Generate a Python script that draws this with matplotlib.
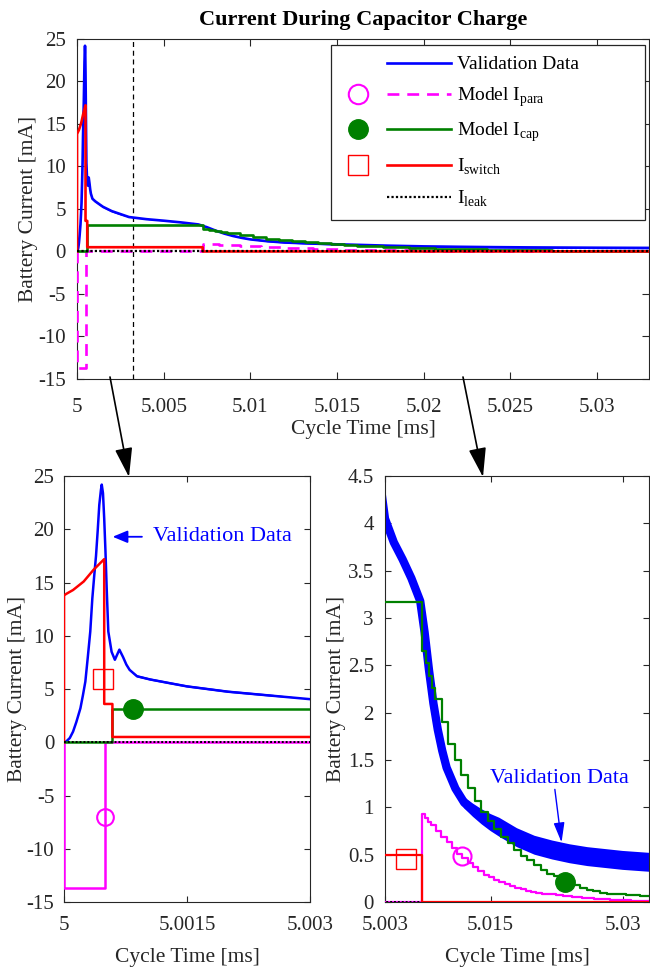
import numpy as np
import matplotlib
matplotlib.use('Agg')
import matplotlib.pyplot as plt
from matplotlib.lines import Line2D
from matplotlib.patches import FancyArrowPatch
from matplotlib.legend_handler import HandlerBase

plt.rcParams['font.family'] = 'Liberation Serif'
plt.rcParams['mathtext.fontset'] = 'custom'
plt.rcParams['mathtext.rm'] = 'Liberation Serif'
plt.rcParams['axes.unicode_minus'] = False
plt.rcParams['xtick.direction'] = 'in'
plt.rcParams['ytick.direction'] = 'in'
plt.rcParams['xtick.top'] = True
plt.rcParams['ytick.right'] = True
plt.rcParams['axes.edgecolor'] = '#262626'
plt.rcParams['axes.linewidth'] = 0.8
plt.rcParams['xtick.color'] = '#262626'
plt.rcParams['ytick.color'] = '#262626'
plt.rcParams['text.color'] = '#262626'
plt.rcParams['axes.labelcolor'] = '#262626'

blue, magenta, green, red = '#0000ff', '#ff00ff', '#008000', '#ff0000'


#> Data (cycle time in ms, current in mA)
valTime = [5.0, 5.00003, 5.00007, 5.00011, 5.00015, 5.0002, 5.00023, 5.00026, 5.00029, 5.00032,
           5.000345, 5.00037, 5.00039, 5.00041, 5.00043, 5.00045, 5.00046, 5.000475, 5.00049, 5.000505,
           5.00052, 5.00054, 5.00058, 5.00062, 5.000675, 5.00072, 5.00076, 5.0008, 5.00089, 5.00105,
           5.00129, 5.0015, 5.002, 5.0025, 5.003, 5.004, 5.005, 5.006, 5.007, 5.0075,
           5.008, 5.0085, 5.009, 5.0095, 5.01, 5.011, 5.012, 5.013, 5.014, 5.015,
           5.016, 5.018, 5.02, 5.022, 5.024, 5.026, 5.028, 5.03, 5.033]
valCurrent = [0.0, 0.1, 0.4, 1.0, 1.9, 3.2, 4.4, 5.7, 8.0, 10.4,
              13.5, 15.8, 17.5, 19.8, 22.3, 23.7, 24.2, 23.4, 21.0, 18.0,
              14.5, 10.4, 8.5, 7.75, 8.7, 8.0, 7.3, 6.8, 6.2, 5.9,
              5.55, 5.25, 4.75, 4.4, 4.05, 3.8, 3.62, 3.42, 3.18, 2.85,
              2.45, 2.1, 1.82, 1.6, 1.42, 1.2, 1.05, 0.97, 0.9, 0.84,
              0.79, 0.68, 0.6, 0.55, 0.51, 0.48, 0.46, 0.44, 0.42]
# half-width of the measurement noise band
valSpread = [0, 0, 0, 0, 0, 0, 0, 0, 0, 0,
             0, 0, 0, 0, 0, 0, 0, 0, 0, 0,
             0, 0, 0.05, 0.05, 0.05, 0.05, 0.05, 0.05, 0.1, 0.1,
             0.1, 0.1, 0.1, 0.1, 0.03, 0.03, 0.03, 0.03, 0.03, 0.03,
             0.03, 0.03, 0.03, 0.03, 0.03, 0.06, 0.06, 0.07, 0.08, 0.09,
             0.1, 0.1, 0.1, 0.1, 0.1, 0.1, 0.1, 0.1, 0.1]

paraTime = [5.0, 5.0, 5.0005, 5.00725, 5.0076, 5.0079, 5.0082, 5.0088, 5.0094, 5.01,
            5.0106, 5.0112, 5.0118, 5.0124, 5.013, 5.0136, 5.0142, 5.0148, 5.0154, 5.016,
            5.0166, 5.0172, 5.0178, 5.0184, 5.019, 5.0196, 5.0202, 5.0208, 5.0216, 5.0224,
            5.0232, 5.0242, 5.0254, 5.0268, 5.0286, 5.031, 5.033]
paraCurrent = [0.0, -13.7, 0.0, 0.93, 0.89, 0.85, 0.81, 0.75, 0.69, 0.63,
               0.57, 0.51, 0.46, 0.41, 0.37, 0.33, 0.29, 0.26, 0.23, 0.21,
               0.19, 0.17, 0.15, 0.135, 0.12, 0.11, 0.1, 0.09, 0.08, 0.07,
               0.06, 0.05, 0.04, 0.03, 0.02, 0.015, 0.01]

capTime = [5.0, 5.00059, 5.00725, 5.00763, 5.00798, 5.00833, 5.00868, 5.00943, 5.01018, 5.01093,
           5.01168, 5.01243, 5.01318, 5.01393, 5.01468, 5.01543, 5.01618, 5.01693, 5.01768, 5.01843,
           5.01918, 5.01993, 5.02068, 5.02143, 5.02218, 5.02293, 5.02368, 5.02443, 5.02518, 5.02593,
           5.02668, 5.02743, 5.02818, 5.02893, 5.02968, 5.03043, 5.03118, 5.03193, 5.033]
capCurrent = [0.0, 3.17, 2.65, 2.52, 2.39, 2.26, 2.14, 1.9, 1.67, 1.5,
              1.34, 1.2, 1.07, 0.95, 0.86, 0.77, 0.69, 0.62, 0.55, 0.49,
              0.44, 0.39, 0.34, 0.3, 0.27, 0.24, 0.21, 0.18, 0.15, 0.13,
              0.115, 0.1, 0.09, 0.085, 0.08, 0.075, 0.07, 0.065, 0.06]

switchTime = [5.0, 5.0, 5.00003, 5.00011, 5.00024, 5.00036, 5.00049, 5.00049, 5.00059, 5.00059,
              5.00725, 5.00725, 5.033]
switchCurrent = [0.0, 13.8, 13.95, 14.3, 15.1, 16.2, 17.2, 3.6, 3.6, 0.5,
                 0.5, 0.0, 0.0]

leakTime = [5.0, 5.033]
leakCurrent = [0.0, 0.0]

# marker positions in the two zoomed views: (time, current)
paraMarks = [(5.0005, -7.0), (5.0118, 0.49)]
capMarks = [(5.00084, 3.17), (5.0235, 0.21)]
switchMarks = [(5.00048, 5.97), (5.00533, 0.45)]
zoomEdge = 5.00325

valLow = np.array(valCurrent) - np.array(valSpread)
valHigh = np.array(valCurrent) + np.array(valSpread)


class MarkerThenLine(HandlerBase):
    # legend entry: optional marker on the left, line sample on the right
    def create_artists(self, legend, orig_handle, xdescent, ydescent, width, height, fontsize, trans):
        markerHandle, lineHandle = orig_handle
        yMid = height / 2 - ydescent
        artists = []
        if markerHandle is not None:
            m = Line2D([0.147 * width - xdescent], [yMid])
            m.update_from(markerHandle)
            m.set_linestyle('none')
            artists.append(m)
        ln = Line2D([0.42 * width - xdescent, width - xdescent], [yMid, yMid])
        ln.update_from(lineHandle)
        ln.set_marker('None')
        artists.append(ln)
        for a in artists:
            a.set_transform(trans)
        return artists


fig = plt.figure(figsize=(6.5, 9.69), dpi=100)

#> Top: full charge
axTop = fig.add_axes([0.1185, 0.6089, 0.88, 0.3509])
axTop.fill_between(valTime, valLow, valHigh, color=blue, lw=0, zorder=2)
blueLine, = axTop.plot(valTime, valCurrent, color=blue, lw=1.9, zorder=2)
paraLine, = axTop.plot(paraTime, paraCurrent, color=magenta, lw=1.9, drawstyle='steps-post',
                       dashes=(4.5, 3), zorder=3)
capLine, = axTop.plot(capTime, capCurrent, color=green, lw=1.9, drawstyle='steps-post', zorder=4)
switchLine, = axTop.plot(switchTime, switchCurrent, color=red, lw=1.9, zorder=5)
leakLine, = axTop.plot(leakTime, leakCurrent, color='black', lw=1.6, linestyle=(0, (1, 1)), zorder=6)
axTop.axvline(zoomEdge, color='black', lw=0.9, dashes=(4, 3), zorder=1)

axTop.set_xlim(5.0, 5.033)
axTop.set_ylim(-15, 25)
axTop.set_xticks([5.0, 5.005, 5.01, 5.015, 5.02, 5.025, 5.03],
                 ['5', '5.005', '5.01', '5.015', '5.02', '5.025', '5.03'])
axTop.set_yticks(np.arange(-15, 26, 5))
axTop.tick_params(labelsize=15, length=5, width=0.8)
axTop.tick_params(axis='x', pad=13.5)
axTop.tick_params(axis='y', pad=8)
axTop.set_xlabel('Cycle Time [ms]', fontsize=15.5, labelpad=2)
axTop.set_ylabel('Battery Current [mA]', fontsize=15.5, labelpad=0)
axTop.set_title('Current During Capacitor Charge', fontsize=16, fontweight='bold', color='black', pad=10)

paraMark = Line2D([], [], marker='o', markersize=14, mfc='none', mec=magenta, mew=1.5)
capMark = Line2D([], [], marker='o', markersize=14, mfc=green, mec=green)
switchMark = Line2D([], [], marker='s', markersize=14, mfc='none', mec=red, mew=1.0)
leg = axTop.legend([(None, blueLine), (paraMark, paraLine), (capMark, capLine), (switchMark, switchLine), (None, leakLine)],
                   ['Validation Data', 'Model I$_{\\rm para}$', 'Model I$_{\\rm cap}$', 'I$_{\\rm switch}$', 'I$_{\\rm leak}$'],
                   handler_map={tuple: MarkerThenLine()}, loc='upper left', mode='expand',
                   bbox_to_anchor=(0.444, 0.0, 0.549, 0.982), fontsize=14,
                   fancybox=False, framealpha=1, edgecolor='#262626', borderaxespad=0,
                   borderpad=0.55, handlelength=5.6, handletextpad=0.35, labelspacing=0.62)
leg.get_frame().set_linewidth(0.9)
for t in leg.get_texts():
    t.set_color('black')

#> Bottom left: switching event
axLeft = fig.add_axes([0.0985, 0.0691, 0.3785, 0.4396])
axLeft.fill_between(valTime, valLow, valHigh, color=blue, lw=0, zorder=2)
axLeft.plot(valTime, valCurrent, color=blue, lw=1.8, zorder=2)
axLeft.plot(paraTime, paraCurrent, color=magenta, lw=1.8, drawstyle='steps-post', zorder=3)
axLeft.plot(capTime, capCurrent, color=green, lw=1.8, drawstyle='steps-post', zorder=4)
axLeft.plot(switchTime, switchCurrent, color=red, lw=1.8, zorder=5)
axLeft.plot(leakTime, leakCurrent, color='black', lw=1.4, linestyle=(0, (1, 1)), zorder=6)
axLeft.plot(*paraMarks[0], marker='o', markersize=12, mfc='none', mec=magenta, mew=1.5, zorder=7)
axLeft.plot(*capMarks[0], marker='o', markersize=14, mfc=green, mec=green, zorder=7)
axLeft.plot(*switchMarks[0], marker='s', markersize=15, mfc='none', mec=red, mew=1.0, zorder=7)
axLeft.annotate('', xy=(5.000593, 19.3), xytext=(5.00095, 19.3),
                arrowprops=dict(arrowstyle='-|>,head_length=0.6,head_width=0.25', color=blue,
                                lw=1.3, mutation_scale=15, shrinkA=0, shrinkB=0))
axLeft.text(5.00109, 19.3, 'Validation Data', color=blue, fontsize=16, va='center')
axLeft.set_xlim(5.0, 5.003)
axLeft.set_ylim(-15, 25)
axLeft.set_xticks([5.0, 5.0015, 5.003], ['5', '5.0015', '5.003'])
axLeft.set_yticks(np.arange(-15, 26, 5))
axLeft.tick_params(labelsize=15, length=4, width=0.8)
axLeft.tick_params(axis='x', pad=10.3)
axLeft.tick_params(axis='y', pad=7)
axLeft.set_xlabel('Cycle Time [ms]', fontsize=15.5, labelpad=9)
axLeft.set_ylabel('Battery Current [mA]', fontsize=15.5, labelpad=0)

#> Bottom right: capacitor charging tail
axRight = fig.add_axes([0.5923, 0.0691, 0.4062, 0.4396])
axRight.fill_between(valTime, valLow, valHigh, color=blue, lw=0, zorder=2)
axRight.plot(valTime, valCurrent, color=blue, lw=6, zorder=2)
axRight.plot(paraTime, paraCurrent, color=magenta, lw=1.6, drawstyle='steps-post', zorder=3)
axRight.plot(capTime, capCurrent, color=green, lw=1.6, drawstyle='steps-post', zorder=4)
axRight.plot(leakTime, leakCurrent, color='black', lw=1.4, linestyle=(0, (1, 1)), zorder=5)
axRight.plot(switchTime, switchCurrent, color=red, lw=1.6, zorder=6)
axRight.plot(*paraMarks[1], marker='o', markersize=13, mfc='none', mec=magenta, mew=1.5, zorder=7)
axRight.plot(*capMarks[1], marker='o', markersize=14, mfc=green, mec=green, zorder=7)
axRight.plot(*switchMarks[1], marker='s', markersize=15, mfc='none', mec=red, mew=1.0, zorder=7)
axRight.annotate('', xy=(5.02306, 0.63), xytext=(5.0223, 1.19),
                 arrowprops=dict(arrowstyle='-|>,head_length=0.8,head_width=0.22', color=blue,
                                 lw=1.0, mutation_scale=15, shrinkA=0, shrinkB=0))
axRight.text(5.0149, 1.31, 'Validation Data', color=blue, fontsize=16, va='center')
axRight.set_xlim(5.003, 5.033)
axRight.set_ylim(0, 4.5)
axRight.set_xticks([5.003, 5.015, 5.03], ['5.003', '5.015', '5.03'])
axRight.set_yticks(np.arange(0, 4.6, 0.5),
                   ['0', '0.5', '1', '1.5', '2', '2.5', '3', '3.5', '4', '4.5'])
axRight.tick_params(labelsize=15, length=4, width=0.8)
axRight.tick_params(axis='x', pad=10.3)
axRight.tick_params(axis='y', pad=8)
axRight.set_xlabel('Cycle Time [ms]', fontsize=15.5, labelpad=9)
axRight.set_ylabel('Battery Current [mA]', fontsize=15.5, labelpad=1)

#> Pointers from the overview to the zoomed views
for start, end in [((110, 377), (129, 477)), ((463, 377), (483, 477))]:
    fig.add_artist(FancyArrowPatch((start[0] / 650, 1 - start[1] / 969), (end[0] / 650, 1 - end[1] / 969),
                                   transform=fig.transFigure, arrowstyle='-|>,head_length=0.9,head_width=0.27',
                                   mutation_scale=20, color='black', lw=1.2, shrinkA=0, shrinkB=0))

fig.savefig('out.png', dpi=100)
